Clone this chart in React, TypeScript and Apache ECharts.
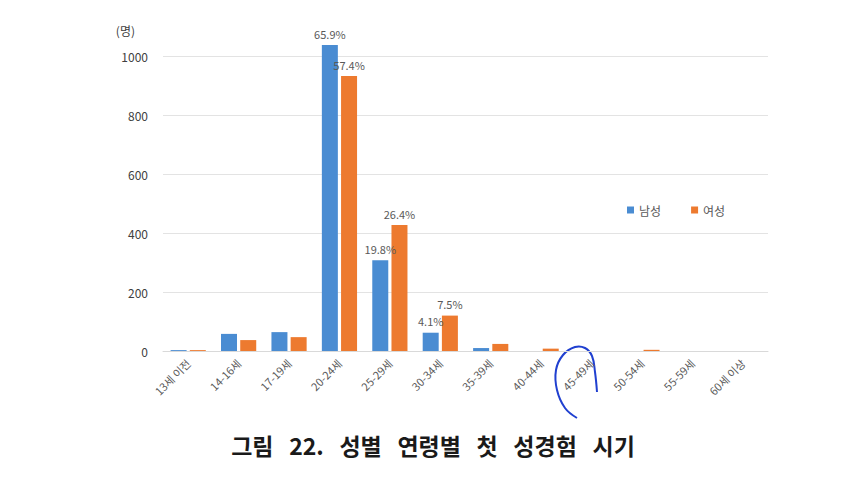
import React, { useEffect, useRef } from "react";
import * as echarts from "echarts";

const categories = ["13세 이전", "14-16세", "17-19세", "20-24세", "25-29세", "30-34세", "35-39세", "40-44세", "45-49세", "50-54세", "55-59세", "60세 이상"];
const maleValues = [3, 58, 64, 1037, 308, 62, 10, 0, 0, 0, 0, 0];
const femaleValues = [3, 37, 47, 932, 427, 120, 24, 8, 0, 4, 0, 0];
const maleLabels = ["", "", "", "65.9%", "19.8%", "4.1%", "", "", "", "", "", ""];
const femaleLabels = ["", "", "", "57.4%", "26.4%", "7.5%", "", "", "", "", "", ""];
const yTicks = [0, 200, 400, 600, 800, 1000];

const FONT = "'Noto Sans CJK KR', 'Noto Sans', sans-serif";

export default function App() {
  const ref = useRef<HTMLDivElement>(null);
  useEffect(() => {
    if (!ref.current) return;
    const chart = echarts.init(ref.current, undefined, { renderer: "svg" });
    const lbl = (arr: string[]) => ({
      show: true,
      position: "top",
      distance: 6,
      color: "#595959",
      fontSize: 11,
      fontFamily: FONT,
      formatter: (p: any) => arr[p.dataIndex],
    });
    chart.setOption({
      animation: false,
      backgroundColor: "#ffffff",
      textStyle: { fontFamily: FONT },
      grid: { left: 155, right: 90, top: 48, bottom: 135 },
      legend: {
        data: ["남성", "여성"],
        left: 614,
        top: 191,
        itemWidth: 7,
        itemHeight: 7,
        itemGap: 30,
        icon: "rect",
        textStyle: { color: "#595959", fontSize: 12, fontFamily: FONT },
      },
      xAxis: {
        type: "category",
        data: categories,
        axisLine: { show: true, lineStyle: { color: "#d9d9d9" } },
        axisTick: { show: false },
        axisLabel: { rotate: 45, color: "#595959", fontSize: 11, margin: 10, interval: 0, fontFamily: FONT },
      },
      yAxis: {
        type: "value",
        min: yTicks[0],
        max: yTicks[yTicks.length - 1],
        interval: 200,
        name: "(명)",
        nameLocation: "end",
        nameGap: 20,
        nameTextStyle: { color: "#404040", fontSize: 12, align: "right", padding: [0, 28, 0, 0], fontFamily: FONT },
        axisLine: { show: false },
        axisTick: { show: false },
        axisLabel: { color: "#404040", fontSize: 12, margin: 15, fontFamily: FONT, formatter: (v: number) => String(v) },
        splitLine: { lineStyle: { color: "#e3e3e3" } },
      },
      series: [
        {
          name: "남성",
          type: "bar",
          data: maleValues,
          barWidth: 16,
          barGap: "20%",
          clip: false,
          itemStyle: { color: "#4a8cd2" },
          label: lbl(maleLabels),
        },
        {
          name: "여성",
          type: "bar",
          data: femaleValues,
          barWidth: 16,
          clip: false,
          itemStyle: { color: "#ed7a2f" },
          label: lbl(femaleLabels),
        },
      ],
      graphic: [
        {
          type: "text",
          left: "center",
          top: 425,
          style: {
            text: "그림   22.   성별   연령별   첫   성경험   시기",
            fill: "#1a1a1a",
            font: `bold 23px ${FONT}`,
          },
        },
        {
          type: "polyline",
          shape: {
            points: [[589, 384], [587, 364], [584, 348], [577, 340], [567, 339], [555, 347], [548, 362], [549, 382], [557, 400], [569, 410]],
            smooth: 0.4,
          },
          style: { stroke: "#2040d0", lineWidth: 2, fill: "none" },
        },
      ],
    });
    return () => chart.dispose();
  }, []);
  return <div ref={ref} style={{ width: 850, height: 478 }} />;
}
